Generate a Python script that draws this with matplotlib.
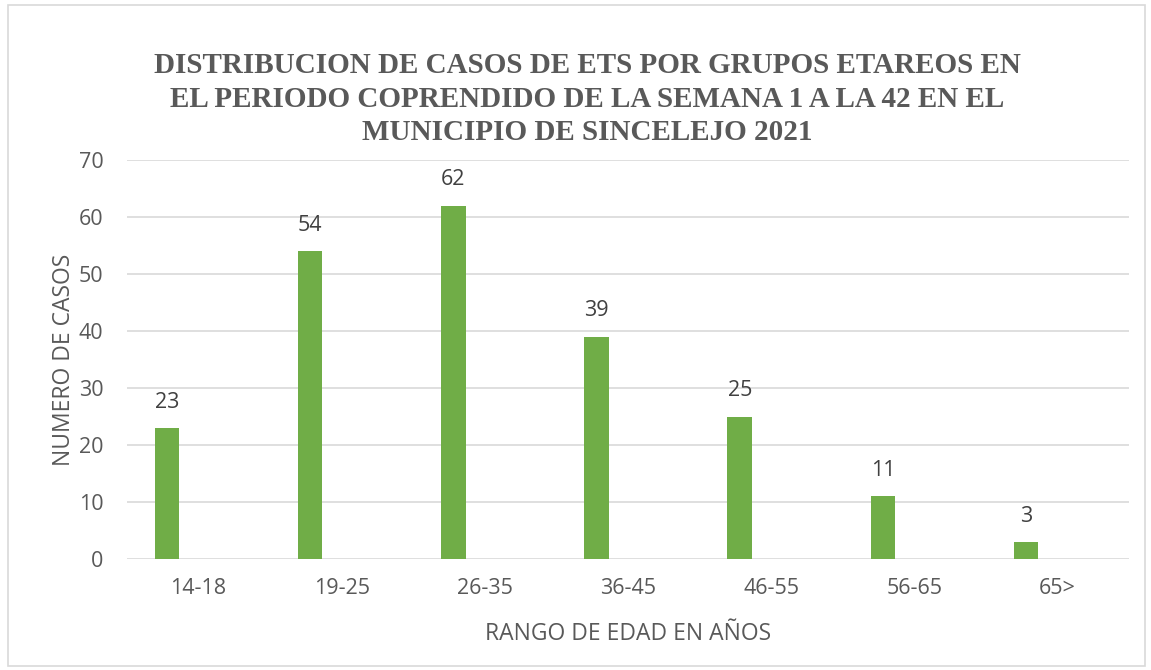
import numpy as np
import matplotlib.pyplot as plt
from matplotlib.patches import Rectangle

categorias = ['14-18', '19-25', '26-35', '36-45', '46-55', '56-65', '65>']
casos = [23, 54, 62, 39, 25, 11, 3]

titulo = ('DISTRIBUCION DE CASOS DE ETS POR GRUPOS ETAREOS EN\n'
          'EL PERIODO COPRENDIDO DE LA SEMANA 1 A LA 42 EN EL\n'
          'MUNICIPIO DE SINCELEJO 2021')

plt.rcParams['font.family'] = ['Open Sans', 'DejaVu Sans']

fig = plt.figure(figsize=(11.51, 6.70), dpi=100)
ax = fig.add_axes([0.1103, 0.1657, 0.8707, 0.5953])

# borde del grafico
fig.patches.append(Rectangle((0.007, 0.006), 0.988, 0.987, transform=fig.transFigure,
                             fill=False, edgecolor='#d9d9d9', linewidth=1.2))

x = np.arange(len(categorias))
barras = ax.bar(x - 0.22, casos, width=0.171, color='#70ad47', zorder=3)

for xi, v in zip(x, casos):
    ax.annotate(str(v), (xi - 0.22, v), xytext=(0, 11), textcoords='offset points',
                ha='center', va='bottom', fontsize=15.5, color='#404040')

ax.set_xlim(-0.5, len(categorias) - 0.5)
ax.set_ylim(0, 70)
ax.set_yticks(range(0, 71, 10))
ax.set_xticks(x)
ax.set_xticklabels(categorias)
ax.grid(axis='y', color='#d9d9d9', linewidth=1.2, zorder=0)
for s in ax.spines.values():
    s.set_visible(False)
ax.tick_params(axis='both', length=0, labelsize=15.5, labelcolor='#595959')
ax.tick_params(axis='x', pad=14)
ax.tick_params(axis='y', pad=17)

ax.set_ylabel('NUMERO DE CASOS', fontsize=16.5, color='#595959', labelpad=2)
ax.set_xlabel('RANGO DE EDAD EN AÑOS', fontsize=16.5, color='#595959', labelpad=16)

fig.text(0.51, 0.852, titulo, ha='center', va='center', fontsize=21,
         fontweight='bold', family='Liberation Serif', color='#595959',
         linespacing=1.3)

fig.savefig('out.png', dpi=100)
